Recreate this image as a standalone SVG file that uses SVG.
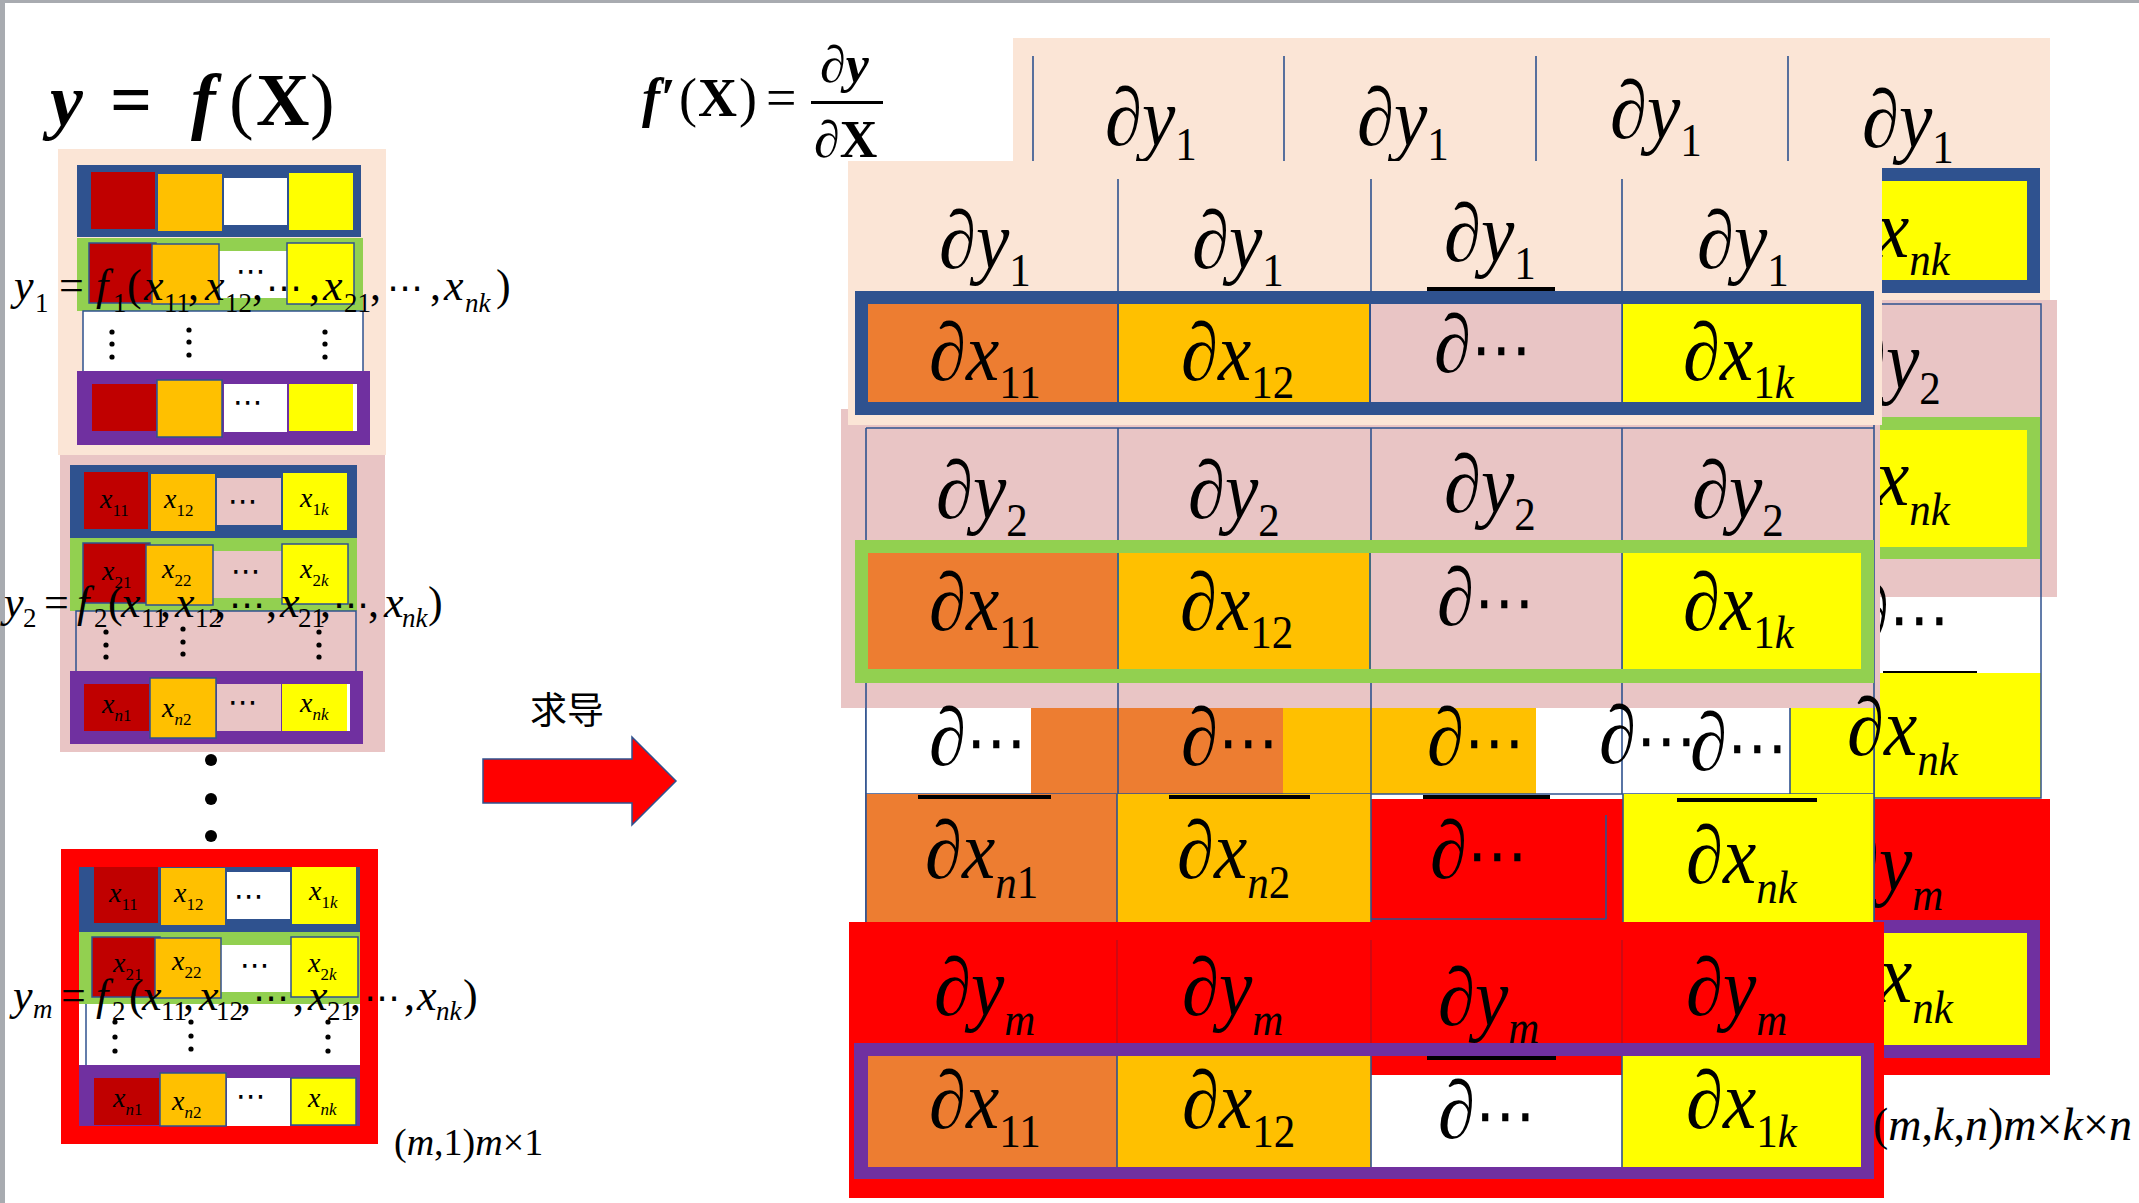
<svg xmlns="http://www.w3.org/2000/svg" width="2139" height="1203" viewBox="0 0 2139 1203">
<style>
.F{font-family:"Liberation Serif","Times New Roman",serif;font-style:italic;fill:#000}
.u{font-style:normal}
.b{font-weight:bold}
.sd{font-size:27px;font-style:normal}
.si{font-size:27px}
.dt{font-family:"DejaVu Sans",sans-serif;font-style:normal}
.c{font-family:"Liberation Serif",serif;font-style:italic;font-size:28px}
.cs{font-size:17px;font-style:normal}
.ci{font-size:17px}
.D{font-family:"Liberation Serif",serif;font-style:italic;font-size:75px}
.Ds{font-size:43px;font-style:normal}
.Di{font-size:43px}
.ol{stroke:#2F528F;stroke-width:1.5}
.ln{stroke:#2F528F;stroke-width:1.6}
.bar{fill:#000}
</style>
<rect width="2139" height="1203" fill="#fff"/>
<rect x="0" y="0" width="2139" height="3" fill="#A8ABB0"/>
<rect x="0" y="0" width="5" height="1203" fill="#A8ABB0"/>

<g id="title-left">
<text class="F b" font-size="74"><tspan x="50" y="125">y</tspan><tspan class="u" x="110" y="125">=</tspan><tspan x="191" y="125">f</tspan><tspan class="u" font-weight="normal" x="229" y="125">(</tspan><tspan class="u" x="256" y="125">X</tspan><tspan class="u" font-weight="normal" x="310" y="125">)</tspan></text>
</g>

<g id="panel-y1">
<rect x="58" y="149" width="328" height="306" fill="#FBE5D6"/>
<rect x="77" y="165" width="284" height="72" fill="#2F528F"/>
<rect x="91" y="172" width="64" height="57" fill="#C00000"/>
<rect x="158" y="174" width="64" height="57" fill="#FFC000"/>
<rect x="224" y="178" width="63" height="47" fill="#fff"/>
<rect x="289" y="173" width="64" height="57" fill="#FFFF00"/>
<rect x="77" y="238" width="286" height="73" fill="#92D050"/>
<rect x="219" y="251" width="68" height="47" fill="#fff"/>
<rect class="ol" x="89" y="243" width="67" height="60" fill="#C00000"/>
<rect class="ol" x="152" y="244" width="67" height="60" fill="#FFC000"/>
<rect class="ol" x="287" y="243" width="67" height="61" fill="#FFFF00"/>
<text class="dt" x="236" y="281" font-size="30">⋯</text>
<rect class="ol" x="83" y="311" width="280" height="61" fill="#fff"/>
<g fill="#000"><circle cx="112" cy="332" r="2.6"/><circle cx="112" cy="344" r="2.6"/><circle cx="112" cy="357" r="2.6"/><circle cx="189" cy="330" r="2.6"/><circle cx="189" cy="342" r="2.6"/><circle cx="189" cy="355" r="2.6"/><circle cx="325" cy="332" r="2.6"/><circle cx="325" cy="344" r="2.6"/><circle cx="325" cy="357" r="2.6"/></g>
<rect x="77" y="371" width="293" height="74" fill="#7030A0"/>
<rect x="92" y="384" width="64" height="47" fill="#C00000"/>
<rect class="ol" x="157" y="380" width="65" height="57" fill="#FFC000"/>
<rect x="224" y="384" width="63" height="48" fill="#fff"/>
<rect x="289" y="384" width="64" height="47" fill="#FFFF00"/>
<rect x="353" y="384" width="4" height="47" fill="#fff"/>
<text class="dt" x="233" y="412" font-size="30">⋯</text>
<text class="F" font-size="44"><tspan x="14" y="300">y</tspan><tspan class="sd" x="35" y="312">1</tspan><tspan class="u" x="59" y="300">=</tspan><tspan x="96" y="300">f</tspan><tspan class="sd" x="113" y="312">1</tspan><tspan class="u" x="127" y="300">(</tspan><tspan x="144" y="300">x</tspan><tspan class="sd" x="164" y="312">11</tspan><tspan class="u" x="188" y="300">,</tspan><tspan x="205" y="300">x</tspan><tspan class="sd" x="225" y="312">12</tspan><tspan class="u" x="252" y="300">,</tspan><tspan class="dt" x="266" y="300" font-size="36">⋯</tspan><tspan class="u" x="309" y="300">,</tspan><tspan x="323" y="300">x</tspan><tspan class="sd" x="344" y="312">21</tspan><tspan class="u" x="370" y="300">,</tspan><tspan class="dt" x="387" y="300" font-size="36">⋯</tspan><tspan class="u" x="430" y="300">,</tspan><tspan x="444" y="300">x</tspan><tspan class="si" x="465" y="312">nk</tspan><tspan class="u" x="496" y="300">)</tspan></text>
</g>

<g id="panel-y2">
<rect x="60" y="455" width="325" height="297" fill="#E9C5C5"/>
<rect x="70" y="465" width="287" height="73" fill="#2F528F"/>
<rect x="84" y="472" width="64" height="57" fill="#C00000"/>
<rect x="151" y="474" width="64" height="57" fill="#FFC000"/>
<rect x="217" y="478" width="64" height="47" fill="#E9C5C5"/>
<rect x="283" y="473" width="64" height="57" fill="#FFFF00"/>
<rect x="70" y="538" width="287" height="73" fill="#92D050"/>
<rect x="213" y="551" width="69" height="47" fill="#E9C5C5"/>
<rect class="ol" x="83" y="543" width="67" height="60" fill="#C00000"/>
<rect class="ol" x="146" y="545" width="67" height="60" fill="#FFC000"/>
<rect class="ol" x="282" y="544" width="66" height="60" fill="#FFFF00"/>
<rect class="ol" x="76" y="611" width="280" height="61" fill="#E9C5C5"/>
<g fill="#000"><circle cx="106" cy="632" r="2.6"/><circle cx="106" cy="645" r="2.6"/><circle cx="106" cy="657" r="2.6"/><circle cx="183" cy="629" r="2.6"/><circle cx="183" cy="642" r="2.6"/><circle cx="183" cy="654" r="2.6"/><circle cx="319" cy="632" r="2.6"/><circle cx="319" cy="645" r="2.6"/><circle cx="319" cy="657" r="2.6"/></g>
<rect x="70" y="671" width="293" height="73" fill="#7030A0"/>
<rect x="84" y="684" width="65" height="47" fill="#C00000"/>
<rect class="ol" x="150" y="678" width="66" height="60" fill="#FFC000"/>
<rect x="217" y="684" width="64" height="47" fill="#E9C5C5"/>
<rect x="282" y="684" width="65" height="47" fill="#FFFF00"/>
<rect x="347" y="684" width="3" height="47" fill="#fff"/>
<text class="c" x="100" y="508">x<tspan class="cs" dy="8">11</tspan></text>
<text class="c" x="164" y="508">x<tspan class="cs" dy="8">12</tspan></text>
<text class="dt" x="228" y="511" font-size="30">⋯</text>
<text class="c" x="300" y="507">x<tspan class="cs" dy="8">1</tspan><tspan class="ci">k</tspan></text>
<text class="c" x="102" y="580">x<tspan class="cs" dy="8">21</tspan></text>
<text class="c" x="162" y="578">x<tspan class="cs" dy="8">22</tspan></text>
<text class="dt" x="231" y="581" font-size="30">⋯</text>
<text class="c" x="300" y="578">x<tspan class="cs" dy="8">2</tspan><tspan class="ci">k</tspan></text>
<text class="c" x="102" y="713">x<tspan class="ci" dy="8">n</tspan><tspan class="cs">1</tspan></text>
<text class="c" x="162" y="717">x<tspan class="ci" dy="8">n</tspan><tspan class="cs">2</tspan></text>
<text class="dt" x="228" y="712" font-size="30">⋯</text>
<text class="c" x="300" y="712">x<tspan class="ci" dy="8">nk</tspan></text>
<text class="F" font-size="44"><tspan x="4" y="617">y</tspan><tspan class="sd" x="23" y="627">2</tspan><tspan class="u" x="44" y="617">=</tspan><tspan x="77" y="617">f</tspan><tspan class="sd" x="94" y="627">2</tspan><tspan class="u" x="108" y="617">(</tspan><tspan x="121" y="617">x</tspan><tspan class="sd" x="141" y="627">11</tspan><tspan class="u" x="160" y="617">,</tspan><tspan x="175" y="617">x</tspan><tspan class="sd" x="195" y="627">12</tspan><tspan class="u" x="215" y="617">,</tspan><tspan class="dt" x="229" y="617" font-size="36">⋯</tspan><tspan class="u" x="266" y="617">,</tspan><tspan x="280" y="617">x</tspan><tspan class="sd" x="298" y="627">21</tspan><tspan class="u" x="320" y="617">,</tspan><tspan class="dt" x="333" y="617" font-size="36">⋯</tspan><tspan class="u" x="368" y="617">,</tspan><tspan x="384" y="617">x</tspan><tspan class="si" x="402" y="627">nk</tspan><tspan class="u" x="428" y="617">)</tspan></text>
</g>

<g id="vdots" fill="#000"><circle cx="211" cy="760" r="6"/><circle cx="211" cy="799" r="6"/><circle cx="211" cy="836" r="6"/></g>

<g id="panel-ym">
<rect x="61" y="849" width="317" height="295" fill="#FF0000"/>
<rect x="79" y="867" width="281" height="259" fill="#fff"/>
<rect x="79" y="867" width="281" height="65" fill="#2F528F"/>
<rect x="94" y="867" width="64" height="56" fill="#C00000"/>
<rect x="161" y="868" width="64" height="57" fill="#FFC000"/>
<rect x="227" y="872" width="63" height="47" fill="#fff"/>
<rect x="292" y="867" width="64" height="57" fill="#FFFF00"/>
<rect x="79" y="932" width="281" height="72" fill="#92D050"/>
<rect x="221" y="945" width="70" height="47" fill="#fff"/>
<rect class="ol" x="92" y="937" width="68" height="60" fill="#C00000"/>
<rect class="ol" x="155" y="938" width="66" height="60" fill="#FFC000"/>
<rect class="ol" x="291" y="937" width="67" height="60" fill="#FFFF00"/>
<line class="ol" x1="86" y1="1004" x2="86" y2="1065"/>
<g fill="#000"><circle cx="115" cy="1022" r="2.6"/><circle cx="115" cy="1037" r="2.6"/><circle cx="115" cy="1051" r="2.6"/><circle cx="191" cy="1022" r="2.6"/><circle cx="191" cy="1036" r="2.6"/><circle cx="191" cy="1049" r="2.6"/><circle cx="328" cy="1022" r="2.6"/><circle cx="328" cy="1037" r="2.6"/><circle cx="328" cy="1051" r="2.6"/></g>
<rect x="79" y="1065" width="281" height="61" fill="#7030A0"/>
<rect x="94" y="1078" width="65" height="47" fill="#C00000"/>
<rect class="ol" x="160" y="1073" width="66" height="53" fill="#FFC000"/>
<rect x="227" y="1078" width="63" height="48" fill="#fff"/>
<rect class="ol" x="291" y="1078" width="65" height="47" fill="#FFFF00"/>
<text class="c" x="109" y="902">x<tspan class="cs" dy="8">11</tspan></text>
<text class="c" x="174" y="902">x<tspan class="cs" dy="8">12</tspan></text>
<text class="dt" x="234" y="906" font-size="30">⋯</text>
<text class="c" x="309" y="900">x<tspan class="cs" dy="8">1</tspan><tspan class="ci">k</tspan></text>
<text class="c" x="113" y="972">x<tspan class="cs" dy="8">21</tspan></text>
<text class="c" x="172" y="970">x<tspan class="cs" dy="8">22</tspan></text>
<text class="dt" x="240" y="975" font-size="30">⋯</text>
<text class="c" x="308" y="972">x<tspan class="cs" dy="8">2</tspan><tspan class="ci">k</tspan></text>
<text class="c" x="113" y="1107">x<tspan class="ci" dy="8">n</tspan><tspan class="cs">1</tspan></text>
<text class="c" x="172" y="1110">x<tspan class="ci" dy="8">n</tspan><tspan class="cs">2</tspan></text>
<text class="dt" x="236" y="1106" font-size="30">⋯</text>
<text class="c" x="308" y="1107">x<tspan class="ci" dy="8">nk</tspan></text>
<text class="F" font-size="44"><tspan x="13" y="1010">y</tspan><tspan class="si" x="33" y="1018">m</tspan><tspan class="u" x="61" y="1010">=</tspan><tspan x="96" y="1010">f</tspan><tspan class="sd" x="112" y="1020">2</tspan><tspan class="u" x="129" y="1010">(</tspan><tspan x="142" y="1010">x</tspan><tspan class="sd" x="161" y="1020">11</tspan><tspan class="u" x="183" y="1010">,</tspan><tspan x="199" y="1010">x</tspan><tspan class="sd" x="216" y="1020">12</tspan><tspan class="u" x="240" y="1010">,</tspan><tspan class="dt" x="253" y="1010" font-size="36">⋯</tspan><tspan class="u" x="293" y="1010">,</tspan><tspan x="308" y="1010">x</tspan><tspan class="sd" x="327" y="1020">21</tspan><tspan class="u" x="350" y="1010">,</tspan><tspan class="dt" x="364" y="1010" font-size="36">⋯</tspan><tspan class="u" x="404" y="1010">,</tspan><tspan x="417" y="1010">x</tspan><tspan class="si" x="436" y="1020">nk</tspan><tspan class="u" x="463" y="1010">)</tspan></text>
<text class="F" font-size="38" x="394" y="1155"><tspan class="u">(</tspan>m<tspan class="u">,1)</tspan>m<tspan class="u">×1</tspan></text>
</g>

<g id="connectors">
<text x="530" y="724" font-family="'Noto Sans CJK SC','Noto Sans CJK JP',sans-serif" font-size="37" fill="#000">求导</text>
<polygon points="483,759 632,759 632,737 676,781 632,825 632,803 483,803" fill="#FF0000" stroke="#2F528F" stroke-width="1.5"/>
</g>

<g id="title-right">
<text class="F b" font-size="54"><tspan x="642" y="116">f′</tspan><tspan class="u" font-weight="normal" x="679" y="116">(</tspan><tspan class="u" x="698" y="116">X</tspan><tspan class="u" font-weight="normal" x="739" y="116">)</tspan><tspan class="u" font-weight="normal" x="766" y="116">=</tspan></text>
<rect x="811" y="101" width="72" height="3" fill="#000"/>
<text class="F b" font-size="52" x="820" y="82">∂y</text>
<text class="F b" font-size="52" x="814" y="157"><tspan font-weight="normal">∂</tspan><tspan class="u">X</tspan></text>
</g>

<g id="slice-a">
<rect x="1013" y="38" width="1037" height="262" fill="#FBE5D6"/>
<g class="ln"><line x1="1033" y1="56" x2="1033" y2="161"/><line x1="1284" y1="56" x2="1284" y2="161"/><line x1="1536" y1="56" x2="1536" y2="161"/><line x1="1788" y1="56" x2="1788" y2="161"/></g>
<text class="D" transform="matrix(1 0 0 1.1 0 -14.5)" x="1105" y="145">∂y<tspan class="Ds" dy="14">1</tspan></text>
<text class="D" transform="matrix(1 0 0 1.1 0 -14.5)" x="1357" y="145">∂y<tspan class="Ds" dy="14">1</tspan></text>
<text class="D" transform="matrix(1 0 0 1.1 0 -13.8)" x="1610" y="138">∂y<tspan class="Ds" dy="16">1</tspan></text>
<text class="D" transform="matrix(1 0 0 1.1 0 -14.7)" x="1862" y="147">∂y<tspan class="Ds" dy="15">1</tspan></text>
<rect x="1860" y="168" width="180" height="125" fill="#2F528F"/>
<rect x="1860" y="181" width="167" height="99" fill="#FFFF00"/>
<text class="D" transform="matrix(1 0 0 1.1 0 -25.7)" x="1876" y="257">x<tspan class="Di" dy="16">nk</tspan></text>
</g>

<g id="slice-d">
<rect x="1850" y="300" width="207" height="297" fill="#E9C5C5"/>
<text class="D" transform="matrix(1 0 0 1.1 0 -38.8)" x="1849" y="388">∂y<tspan class="Ds" dy="15">2</tspan></text>
<rect x="1850" y="417" width="190" height="142" fill="#92D050"/>
<rect x="1850" y="430" width="177" height="117" fill="#FFFF00"/>
<text class="D" transform="matrix(1 0 0 1.1 0 -50.5)" x="1876" y="505">x<tspan class="Di" dy="18">nk</tspan></text>
<rect x="1850" y="597" width="191" height="76" fill="#fff"/>
<text class="D" transform="matrix(1 0 0 1.1 0 -64.2)" x="1852" y="642">∂<tspan class="dt" font-size="60">⋯</tspan></text>
<rect class="bar" x="1883" y="671" width="94" height="4"/>
<rect x="1850" y="673" width="191" height="125" fill="#FFFF00"/>
<rect class="ol" x="1850" y="304" width="191" height="494" fill="none"/>
</g>

<g id="slice-h">
<rect x="1860" y="799" width="190" height="276" fill="#FF0000"/>
<text class="D" transform="matrix(1 0 0 1.1 0 -89)" x="1842" y="890">∂y<tspan class="Di" dy="18">m</tspan></text>
<rect x="1860" y="920" width="180" height="138" fill="#7030A0"/>
<rect x="1860" y="933" width="167" height="112" fill="#FFFF00"/>
<text class="D" transform="matrix(1 0 0 1.1 0 -100.2)" x="1879" y="1002">x<tspan class="Di" dy="19">nk</tspan></text>
</g>

<g id="slice-c">
<rect x="841" y="409" width="1039" height="299" fill="#E9C5C5"/>
<g class="ln"><line x1="866" y1="428" x2="1874" y2="428"/><line x1="866" y1="428" x2="866" y2="922"/><line x1="1118" y1="428" x2="1118" y2="708"/><line x1="1371" y1="428" x2="1371" y2="708"/><line x1="1622" y1="428" x2="1622" y2="708"/><line x1="1874" y1="417" x2="1874" y2="922"/></g>
<text class="D" transform="matrix(1 0 0 1.1 0 -51.8)" x="936" y="518">∂y<tspan class="Ds" dy="16">2</tspan></text>
<text class="D" transform="matrix(1 0 0 1.1 0 -51.8)" x="1188" y="518">∂y<tspan class="Ds" dy="16">2</tspan></text>
<text class="D" transform="matrix(1 0 0 1.1 0 -51.2)" x="1444" y="512">∂y<tspan class="Ds" dy="16">2</tspan></text>
<text class="D" transform="matrix(1 0 0 1.1 0 -51.8)" x="1692" y="518">∂y<tspan class="Ds" dy="16">2</tspan></text>
<rect x="855" y="540" width="1019" height="143" fill="#92D050"/>
<rect x="868" y="553" width="249" height="116" fill="#ED7D31"/>
<rect x="1119" y="553" width="250" height="116" fill="#FFC000"/>
<rect x="1371" y="553" width="251" height="116" fill="#E9C5C5"/>
<rect x="1623" y="553" width="238" height="116" fill="#FFFF00"/>
<g class="ln"><line x1="1118" y1="553" x2="1118" y2="669"/><line x1="1370" y1="553" x2="1370" y2="669"/><line x1="1622" y1="553" x2="1622" y2="669"/></g>
<text class="D" transform="matrix(1 0 0 1.1 0 -63)" x="929" y="630">∂x<tspan class="Ds" dy="16">11</tspan></text>
<text class="D" transform="matrix(1 0 0 1.1 0 -63)" x="1180" y="630">∂x<tspan class="Ds" dy="16">12</tspan></text>
<text class="D" transform="matrix(1 0 0 1.1 0 -62.5)" x="1437" y="625">∂<tspan class="dt" font-size="60">⋯</tspan></text>
<text class="D" transform="matrix(1 0 0 1.1 0 -63)" x="1683" y="630">∂x<tspan class="Ds" dy="16">1</tspan><tspan class="Di">k</tspan></text>
</g>

<g id="slice-b">
<rect x="848" y="161" width="1034" height="264" fill="#FBE5D6"/>
<g class="ln"><line x1="1118" y1="179" x2="1118" y2="291"/><line x1="1371" y1="179" x2="1371" y2="291"/><line x1="1622" y1="179" x2="1622" y2="291"/></g>
<text class="D" transform="matrix(1 0 0 1.1 0 -26.8)" x="939" y="268">∂y<tspan class="Ds" dy="16">1</tspan></text>
<text class="D" transform="matrix(1 0 0 1.1 0 -26.8)" x="1192" y="268">∂y<tspan class="Ds" dy="16">1</tspan></text>
<text class="D" transform="matrix(1 0 0 1.1 0 -26.1)" x="1444" y="261">∂y<tspan class="Ds" dy="16">1</tspan></text>
<text class="D" transform="matrix(1 0 0 1.1 0 -26.8)" x="1697" y="268">∂y<tspan class="Ds" dy="16">1</tspan></text>
<rect class="bar" x="1427" y="287" width="128" height="4"/>
<rect x="855" y="291" width="1019" height="124" fill="#2F528F"/>
<rect x="868" y="304" width="249" height="98" fill="#ED7D31"/>
<rect x="1119" y="304" width="250" height="98" fill="#FFC000"/>
<rect x="1371" y="304" width="251" height="98" fill="#E9C5C5"/>
<rect x="1623" y="304" width="238" height="98" fill="#FFFF00"/>
<g class="ln"><line x1="1118" y1="304" x2="1118" y2="402"/><line x1="1370" y1="304" x2="1370" y2="402"/><line x1="1622" y1="304" x2="1622" y2="402"/></g>
<text class="D" transform="matrix(1 0 0 1.1 0 -38)" x="929" y="380">∂x<tspan class="Ds" dy="16">11</tspan></text>
<text class="D" transform="matrix(1 0 0 1.1 0 -38)" x="1181" y="380">∂x<tspan class="Ds" dy="16">12</tspan></text>
<text class="D" transform="matrix(1 0 0 1.1 0 -37.2)" x="1434" y="372">∂<tspan class="dt" font-size="60">⋯</tspan></text>
<text class="D" transform="matrix(1 0 0 1.1 0 -38)" x="1683" y="380">∂x<tspan class="Ds" dy="16">1</tspan><tspan class="Di">k</tspan></text>
</g>

<g id="row-e">
<rect x="866" y="708" width="165" height="86" fill="#fff"/>
<rect x="1031" y="708" width="252" height="86" fill="#ED7D31"/>
<rect x="1283" y="708" width="253" height="86" fill="#FFC000"/>
<rect x="1536" y="708" width="254" height="86" fill="#fff"/>
<rect x="1790" y="708" width="84" height="86" fill="#FFFF00"/>
<g class="ln"><line x1="866" y1="708" x2="866" y2="794"/><line x1="1118" y1="708" x2="1118" y2="794"/><line x1="1371" y1="708" x2="1371" y2="794"/><line x1="1622" y1="708" x2="1622" y2="794"/><line x1="1790" y1="708" x2="1790" y2="794"/><line x1="1874" y1="708" x2="1874" y2="798"/><line x1="866" y1="794" x2="1874" y2="794"/></g>
<text class="D" transform="matrix(1 0 0 1.1 0 -76.5)" x="929" y="765">∂<tspan class="dt" font-size="60">⋯</tspan></text>
<text class="D" transform="matrix(1 0 0 1.1 0 -76.5)" x="1181" y="765">∂<tspan class="dt" font-size="60">⋯</tspan></text>
<text class="D" transform="matrix(1 0 0 1.1 0 -76.5)" x="1427" y="765">∂<tspan class="dt" font-size="60">⋯</tspan></text>
<text class="D" transform="matrix(1 0 0 1.1 0 -76.3)" x="1599" y="763">∂<tspan class="dt" font-size="60">⋯</tspan></text>
<text class="D" transform="matrix(1 0 0 1.1 0 -77)" x="1690" y="770">∂<tspan class="dt" font-size="60">⋯</tspan></text>
<text class="D" transform="matrix(1 0 0 1.1 0 -75.5)" x="1847" y="755">∂x<tspan class="Di" dy="18">nk</tspan></text>
</g>

<g id="row-f">
<rect x="866" y="794" width="251" height="128" fill="#ED7D31"/>
<rect x="1117" y="794" width="254" height="128" fill="#FFC000"/>
<rect x="1371" y="799" width="252" height="123" fill="#FF0000"/>
<rect x="1623" y="794" width="251" height="128" fill="#FFFF00"/>
<g class="ln"><line x1="866" y1="794" x2="866" y2="922"/><line x1="1117" y1="794" x2="1117" y2="922"/><line x1="1371" y1="794" x2="1371" y2="922"/><line x1="1623" y1="794" x2="1623" y2="922"/><line x1="1874" y1="794" x2="1874" y2="922"/><line x1="1606" y1="815" x2="1606" y2="919"/><line x1="1371" y1="919" x2="1606" y2="919"/></g>
<rect class="bar" x="918" y="795" width="133" height="4"/>
<rect class="bar" x="1169" y="795" width="141" height="4"/>
<rect class="bar" x="1423" y="795" width="127" height="4"/>
<rect class="bar" x="1677" y="798" width="140" height="4"/>
<text class="D" transform="matrix(1 0 0 1.1 0 -87.8)" x="925" y="878">∂x<tspan class="Di" dy="18">n</tspan><tspan class="Ds">1</tspan></text>
<text class="D" transform="matrix(1 0 0 1.1 0 -87.8)" x="1177" y="878">∂x<tspan class="Di" dy="18">n</tspan><tspan class="Ds">2</tspan></text>
<text class="D" transform="matrix(1 0 0 1.1 0 -87.8)" x="1430" y="878">∂<tspan class="dt" font-size="60">⋯</tspan></text>
<text class="D" transform="matrix(1 0 0 1.1 0 -88.3)" x="1686" y="883">∂x<tspan class="Di" dy="18">nk</tspan></text>
</g>

<g id="slice-g">
<rect x="849" y="922" width="1035" height="276" fill="#FF0000"/>
<g stroke="#B01020" stroke-width="1.2"><line x1="1117" y1="940" x2="1117" y2="1043"/><line x1="1371" y1="940" x2="1371" y2="1043"/><line x1="1622" y1="940" x2="1622" y2="1043"/></g>
<text class="D" transform="matrix(1 0 0 1.1 0 -101.5)" x="934" y="1015">∂y<tspan class="Di" dy="18">m</tspan></text>
<text class="D" transform="matrix(1 0 0 1.1 0 -101.5)" x="1182" y="1015">∂y<tspan class="Di" dy="18">m</tspan></text>
<text class="D" transform="matrix(1 0 0 1.1 0 -102.5)" x="1438" y="1025">∂y<tspan class="Di" dy="16">m</tspan></text>
<text class="D" transform="matrix(1 0 0 1.1 0 -101.5)" x="1686" y="1015">∂y<tspan class="Di" dy="18">m</tspan></text>
<rect x="854" y="1043" width="1020" height="136" fill="#7030A0"/>
<rect x="868" y="1056" width="249" height="111" fill="#ED7D31"/>
<rect x="1117" y="1056" width="254" height="111" fill="#FFC000"/>
<rect x="1371" y="1056" width="251" height="19" fill="#FF0000"/>
<rect x="1371" y="1075" width="251" height="92" fill="#fff"/>
<rect x="1622" y="1056" width="239" height="111" fill="#FFFF00"/>
<g class="ln"><line x1="1117" y1="1056" x2="1117" y2="1167"/><line x1="1371" y1="1056" x2="1371" y2="1167"/><line x1="1622" y1="1056" x2="1622" y2="1167"/></g>
<rect class="bar" x="1427" y="1056" width="129" height="4"/>
<text class="D" transform="matrix(1 0 0 1.1 0 -112.8)" x="929" y="1128">∂x<tspan class="Ds" dy="17">11</tspan></text>
<text class="D" transform="matrix(1 0 0 1.1 0 -112.8)" x="1182" y="1128">∂x<tspan class="Ds" dy="17">12</tspan></text>
<text class="D" transform="matrix(1 0 0 1.1 0 -113.8)" x="1438" y="1138">∂<tspan class="dt" font-size="60">⋯</tspan></text>
<text class="D" transform="matrix(1 0 0 1.1 0 -112.8)" x="1686" y="1128">∂x<tspan class="Ds" dy="17">1</tspan><tspan class="Di">k</tspan></text>
</g>

<g id="shape-label">
<text class="F" font-size="46" x="1873" y="1140"><tspan class="u">(</tspan>m<tspan class="u">,</tspan>k<tspan class="u">,</tspan>n<tspan class="u">)</tspan>m<tspan class="u">×</tspan>k<tspan class="u">×</tspan>n</text>
</g>
</svg>
